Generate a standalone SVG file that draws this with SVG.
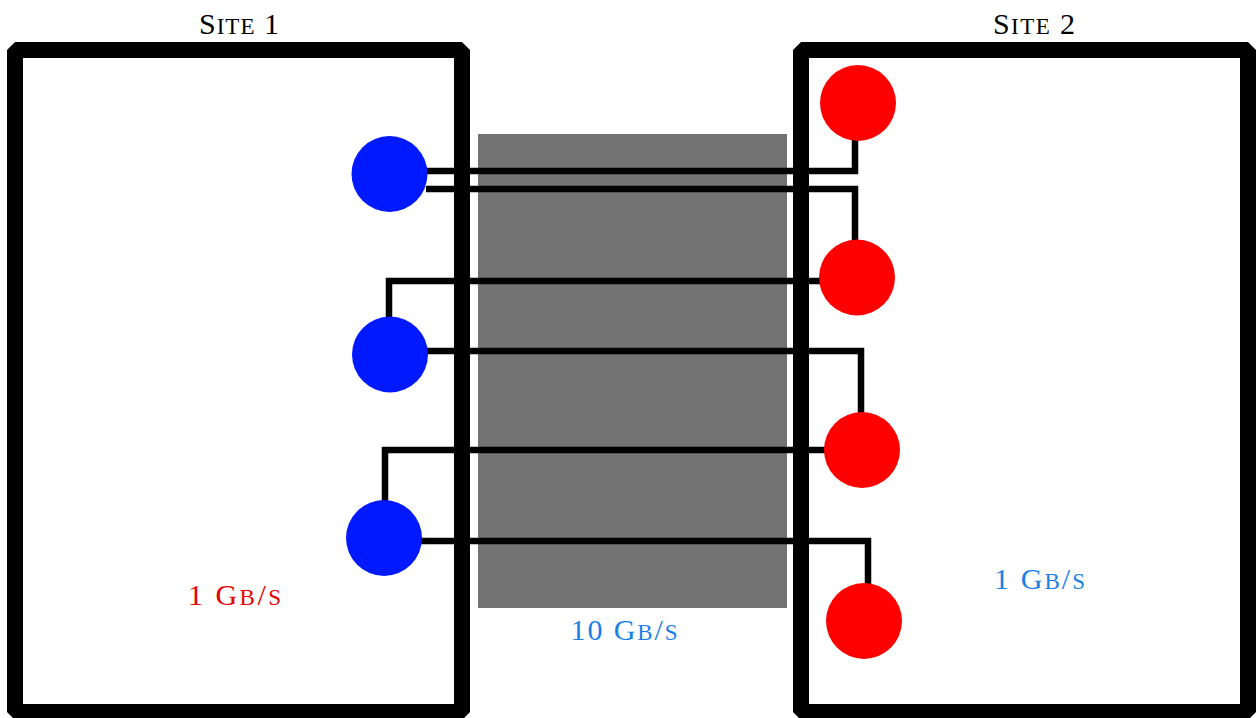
<svg xmlns="http://www.w3.org/2000/svg" width="1256" height="718" viewBox="0 0 1256 718">
<style>
.site{fill:#ffffff;stroke:#000000;stroke-width:16;stroke-linejoin:bevel}
.link{fill:none;stroke:#000000;stroke-width:6.5;stroke-linejoin:miter}
.blue{fill:#0019ff}
.red{fill:#ff0000}
.t{font-family:"Liberation Serif","Times New Roman",serif;font-size:30px;text-anchor:middle}
.sc{font-variant:small-caps;font-size:32.5px}
</style>
<rect width="1256" height="718" fill="#ffffff"/>
<g id="site1">
<rect class="site" x="15" y="50" width="447" height="662"/>
<text class="t" x="239" y="34" fill="#000000" textLength="80" lengthAdjust="spacing">S<tspan class="sc">ite</tspan> 1</text>
<text class="t" x="234.5" y="605" fill="#e60000" textLength="93" lengthAdjust="spacing">1 G<tspan class="sc">b</tspan>/<tspan class="sc">s</tspan></text>
</g>
<g id="site2">
<rect class="site" x="801" y="50" width="447" height="662"/>
<text class="t" x="1034" y="34" fill="#000000" textLength="82" lengthAdjust="spacing">S<tspan class="sc">ite</tspan> 2</text>
<text class="t" x="1039.5" y="589" fill="#1a80e6" textLength="91" lengthAdjust="spacing">1 G<tspan class="sc">b</tspan>/<tspan class="sc">s</tspan></text>
</g>
<g id="wan">
<rect x="478" y="134" width="309" height="474" fill="#737373"/>
<text class="t" x="624" y="640" fill="#1a80e6" textLength="107" lengthAdjust="spacing">10 G<tspan class="sc">b</tspan>/<tspan class="sc">s</tspan></text>
</g>
<g id="connectors">
<path class="link" d="M426,171 H855 V138"/>
<path class="link" d="M426,189 H855 V243"/>
<path class="link" d="M822,281 H389 V318"/>
<path class="link" d="M426,351 H861 V415"/>
<path class="link" d="M827,450 H385 V503"/>
<path class="link" d="M420,541 H868 V586"/>
</g>
<g id="blue1"><circle class="blue" cx="389.5" cy="174" r="38"/></g>
<g id="blue2"><circle class="blue" cx="390" cy="354.5" r="38"/></g>
<g id="blue3"><circle class="blue" cx="384" cy="538" r="38"/></g>
<g id="red1"><circle class="red" cx="858" cy="103" r="38"/></g>
<g id="red2"><circle class="red" cx="857" cy="277.5" r="38"/></g>
<g id="red3"><circle class="red" cx="862" cy="450" r="38"/></g>
<g id="red4"><circle class="red" cx="864" cy="621" r="38"/></g>
</svg>
